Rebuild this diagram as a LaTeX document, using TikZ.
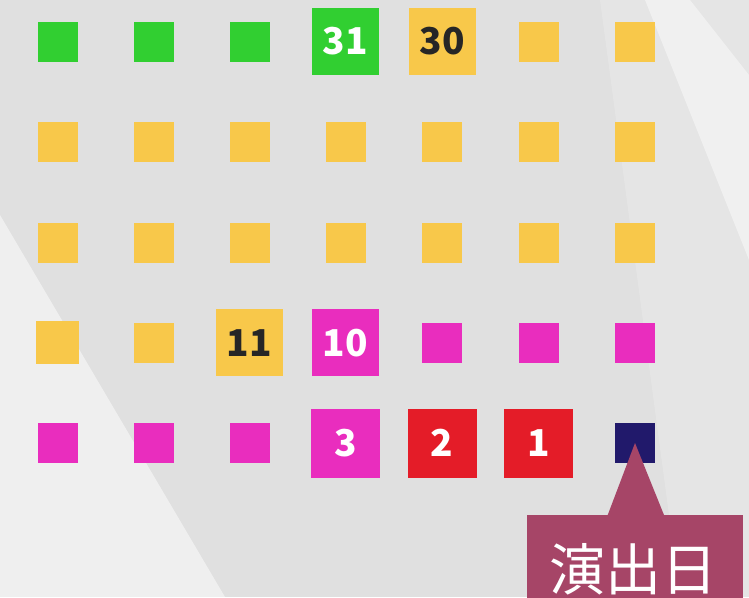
\documentclass[tikz,border=0pt]{standalone}
\usepackage{fontspec}
\newfontfamily\numfont{Noto Sans CJK JP}
\newfontfamily\jpfont{Noto Sans CJK JP}
\definecolor{bggray}{HTML}{E0E0E0}
\definecolor{cgreen}{HTML}{31CF31}
\definecolor{cyellow}{HTML}{F8C84A}
\definecolor{cmagenta}{HTML}{E92DBE}
\definecolor{cred}{HTML}{E41C28}
\definecolor{cnavy}{HTML}{21196B}
\definecolor{ccallout}{HTML}{A64567}
\definecolor{cdark}{HTML}{262626}
\tikzset{
  sq/.style={rectangle, inner sep=0pt, minimum size=40pt},
  big/.style={rectangle, inner sep=0pt, minimum size=67pt, font=\numfont\bfseries\fontsize{37}{37}\selectfont},
  bigger/.style={big, minimum size=69pt},
  G/.style={fill=cgreen, text=white},
  Y/.style={fill=cyellow, text=cdark},
  M/.style={fill=cmagenta, text=white},
  R/.style={fill=cred, text=white},
  N/.style={fill=cnavy},
  callout/.style={fill=ccallout, inner sep=0pt},
}
\begin{document}
\begin{tikzpicture}[x=1pt,y=-1pt]
\useasboundingbox (0,0) rectangle (749,597);
\clip (0,0) rectangle (749,597);
% background
\fill[bggray] (0,0) rectangle (749,597);
\fill[white, opacity=0.5] (0,215) -- (225,597) -- (0,597) -- cycle;
\fill[white, opacity=0.18] (600,0) -- (749,0) -- (749,597) -- (680,597) -- cycle;
\fill[white, opacity=0.45] (645,0) -- (690,0) -- (749,75) -- (749,260) -- cycle;
% row 1
\node[sq,G] (r1c1) at (58,41.5) {};
\node[sq,G] (r1c2) at (154,41.5) {};
\node[sq,G] (r1c3) at (250,41.5) {};
\node[big,G] (r1c4) at (345.5,41.5) {31};
\node[big,Y] (r1c5) at (442,41.5) {30};
\node[sq,Y] (r1c6) at (539,41.5) {};
\node[sq,Y] (r1c7) at (635,41.5) {};
% row 2
\foreach \x [count=\i] in {58,154,250,346,442,539,635}
  \node[sq,Y] (r2c\i) at (\x,142) {};
% row 3
\foreach \x [count=\i] in {58,154,250,346,442,539,635}
  \node[sq,Y] (r3c\i) at (\x,242.5) {};
% row 4
\node[sq,Y,minimum size=42.5pt] (r4c1) at (57.5,342.7) {};
\node[sq,Y] (r4c2) at (154,342.7) {};
\node[big,Y] (r4c3) at (249.5,342.7) {11};
\node[big,M] (r4c4) at (345.5,342.7) {10};
\node[sq,M] (r4c5) at (442,342.7) {};
\node[sq,M] (r4c6) at (539,342.7) {};
\node[sq,M] (r4c7) at (635,342.7) {};
% row 5
\node[sq,M] (r5c1) at (58,443) {};
\node[sq,M] (r5c2) at (154,443) {};
\node[sq,M] (r5c3) at (250,443) {};
\node[bigger,M] (r5c4) at (345.7,443) {3};
\node[bigger,R] (r5c5) at (442,443) {2};
\node[bigger,R] (r5c6) at (538.7,443) {1};
\node[sq,N] (r5c7) at (635,443) {};
% callout
\node[callout, minimum width=216pt, minimum height=100pt, anchor=north west] (call) at (527,515) {};
\node[anchor=base, text=white, font=\jpfont\fontsize{56}{56}\selectfont] (calltext) at (633,590) {演出日};
\coordinate (tipL) at (607.7,515);
\coordinate (tipR) at (664,515);
\fill[ccallout] (tipL) -- (r5c7.center) -- (tipR) -- cycle;
\end{tikzpicture}
\end{document}
